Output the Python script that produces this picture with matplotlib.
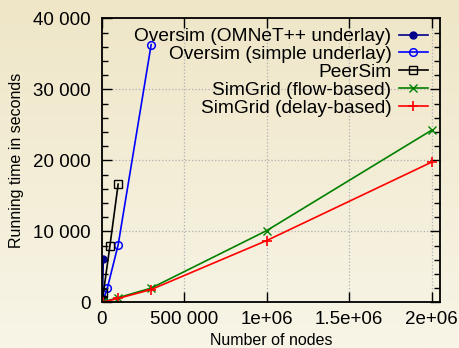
import numpy as np
import matplotlib
matplotlib.use('Agg')
import matplotlib.pyplot as plt
from matplotlib.ticker import MultipleLocator

plt.rcParams['font.family'] = ['Liberation Sans', 'DejaVu Sans']

# data
omnet_nodes = [100, 1000, 5000, 10000]
omnet_time = [2, 30, 600, 6100]

simple_nodes = [100, 1000, 10000, 35000, 100000, 300000]
simple_time = [1, 20, 400, 2050, 8100, 36300]

peersim_nodes = [1000, 5000, 10000, 50000, 100000]
peersim_time = [20, 300, 1250, 7950, 16650]

flow_nodes = [1000, 10000, 100000, 300000, 1000000, 2000000]
flow_time = [5, 60, 650, 2000, 10100, 24250]

delay_nodes = [1000, 10000, 100000, 300000, 1000000, 2000000]
delay_time = [4, 50, 550, 1800, 8700, 19750]

xticks = [0, 500000, 1000000, 1500000, 2000000]
xtick_labels = ['0', '500 000', '1e+06', '1.5e+06', '2e+06']
yticks = [0, 10000, 20000, 30000, 40000]
ytick_labels = ['0', '10 000', '20 000', '30 000', '40 000']

fig = plt.figure(figsize=(4.6, 3.48), dpi=100)

# beige gradient background
bg = fig.add_axes([0, 0, 1, 1], zorder=-10)
grad = np.linspace(0, 1, 256).reshape(-1, 1)
top = np.array([239, 230, 199]) / 255.0
bot = np.array([248, 245, 231]) / 255.0
img = top + (bot - top) * grad[:, :, None]
bg.imshow(img, aspect='auto', extent=[0, 1, 0, 1])
bg.axis('off')

ax = fig.add_axes([0.221, 0.1313, 0.7355, 0.8161])
ax.patch.set_alpha(0)

lw = 1.2
ax.plot(omnet_nodes, omnet_time, color='#00008b', lw=lw, marker='o', ms=5,
        label='Oversim (OMNeT++ underlay)')
ax.plot(simple_nodes, simple_time, color='#0000ff', lw=lw, marker='o', ms=5.5,
        mfc='none', mew=1.1, label='Oversim (simple underlay)')
ax.plot(peersim_nodes, peersim_time, color='black', lw=lw, marker='s', ms=5.5,
        mfc='none', mew=1.0, label='PeerSim')
ax.plot(flow_nodes, flow_time, color='#008000', lw=lw, marker='x', ms=5.5,
        mew=1.0, label='SimGrid (flow-based)')
ax.plot(delay_nodes, delay_time, color='#ff0000', lw=lw, marker='+', ms=6.5,
        mew=1.2, label='SimGrid (delay-based)')

ax.set_xlim(0, 2050000)
ax.set_ylim(0, 40000)
ax.set_xticks(xticks, xtick_labels)
ax.set_yticks(yticks, ytick_labels)
ax.yaxis.set_minor_locator(MultipleLocator(2000))

ax.tick_params(which='both', direction='in', top=True, right=True,
               labelsize=13.5, width=1.0, color='black')
ax.tick_params(which='major', length=7)
ax.tick_params(which='minor', length=4)
ax.tick_params(axis='y', pad=8)
ax.tick_params(axis='x', pad=6)

for s in ax.spines.values():
    s.set_linewidth(1.3)

ax.grid(True, which='major', color='#b0b0b0', linestyle=':', linewidth=0.9)

ax.set_xlabel('Number of nodes', fontsize=11.5, labelpad=4)
ax.set_ylabel('Running time in seconds', fontsize=11.5, labelpad=6)

ax.legend(loc='upper right', bbox_to_anchor=(0.964, 0.966), borderaxespad=0,
          borderpad=0, frameon=False, markerfirst=False, fontsize=13.8,
          handlelength=1.5, handletextpad=0.4, labelspacing=0.02)

fig.savefig('out.png', dpi=100)
